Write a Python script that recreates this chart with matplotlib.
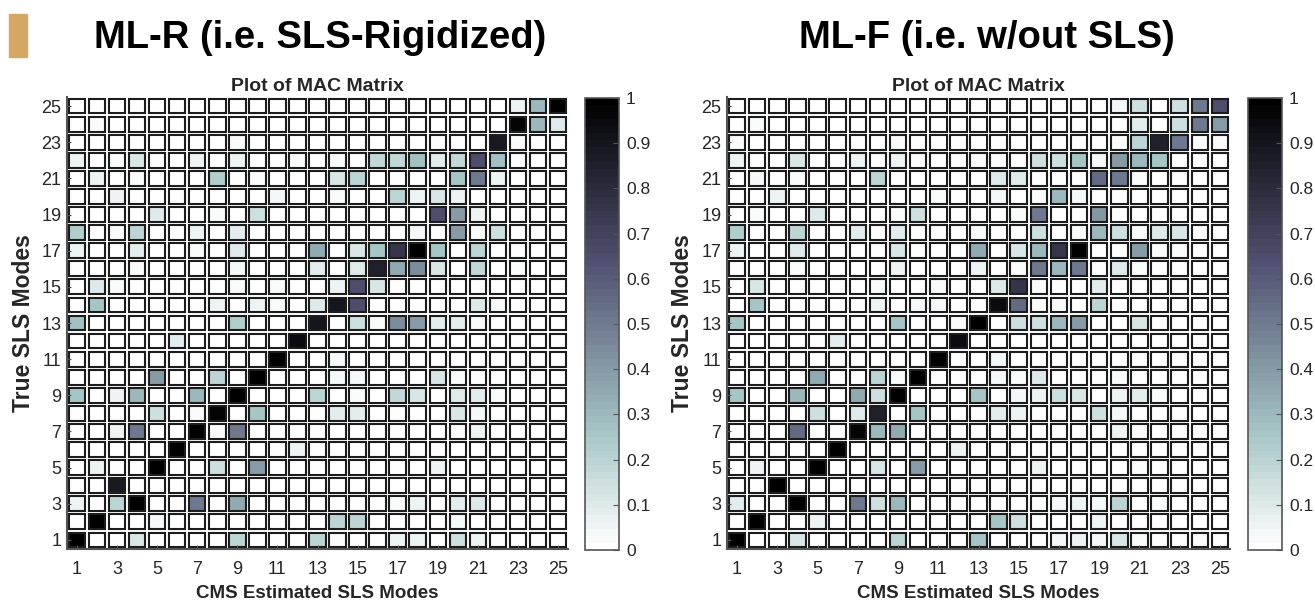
import matplotlib

matplotlib.use("Agg")
import matplotlib.pyplot as plt
import numpy as np
from matplotlib.cm import ScalarMappable
from matplotlib.colors import Normalize
from matplotlib.patches import Rectangle

# MAC values, rows listed from true mode 25 (top) down to true mode 1,
# columns are CMS estimated modes 1..25
mac_rigidized = [
    [0, 0, 0, 0, 0, 0, 0, 0, 0, 0, 0, 0, 0, 0, 0, 0, 0, 0, 0, 0, 0, 0, .05, .30, 1.0],
    [0, .02, 0, 0, 0, 0, 0, 0, 0, 0, 0, 0, 0, 0, 0, 0, 0, 0, 0, 0, 0, 0, .98, .30, .10],
    [0, 0, 0, 0, 0, 0, 0, 0, .03, 0, 0, 0, 0, 0, 0, 0, 0, 0, 0, 0, 0, .88, .03, 0, 0],
    [.05, 0, .03, .12, 0, 0, .06, 0, .06, 0, 0, .02, 0, .03, 0, .18, .18, .28, .08, .18, .65, .28, 0, 0, 0],
    [0, .05, 0, .03, 0, 0, 0, .22, 0, .02, 0, 0, 0, .12, .20, 0, 0, 0, 0, .25, .50, .05, 0, 0, 0],
    [0, 0, .05, 0, 0, 0, 0, 0, 0, 0, .04, 0, 0, .03, 0, 0, .20, .05, .12, .05, 0, 0, 0, 0, 0],
    [0, 0, 0, 0, .10, 0, 0, .03, 0, .15, 0, 0, 0, 0, 0, 0, 0, 0, .65, .40, .05, 0, 0, 0, 0],
    [.22, 0, .03, .20, 0, 0, .06, 0, .08, 0, 0, 0, 0, 0, 0, 0, 0, .04, 0, .40, .03, .15, 0, 0, 0],
    [.05, 0, 0, .08, 0, 0, .03, 0, .10, 0, 0, 0, .35, 0, .12, .25, .75, 1.0, .25, 0, .20, 0, 0, 0, 0],
    [0, 0, 0, .03, 0, 0, 0, 0, .04, 0, 0, 0, .08, 0, .10, .85, .35, .45, .12, 0, .18, 0, .03, 0, 0],
    [0, .10, .03, 0, 0, 0, 0, 0, .03, 0, .03, 0, 0, .06, .65, .12, 0, 0, 0, 0, 0, 0, 0, 0, 0],
    [0, .25, 0, 0, 0, 0, 0, .06, 0, .05, .03, 0, .10, .90, .65, 0, 0, 0, 0, 0, .10, .04, 0, 0, 0],
    [.28, 0, 0, 0, 0, 0, 0, 0, .22, 0, 0, 0, .90, 0, .15, .03, .45, .40, .08, .08, .03, 0, 0, 0, 0],
    [0, 0, 0, 0, 0, .08, 0, 0, 0, 0, 0, .95, 0, 0, 0, 0, 0, 0, 0, 0, 0, 0, 0, 0, 0],
    [0, 0, 0, 0, 0, 0, 0, 0, 0, 0, 1.0, 0, 0, .04, 0, 0, 0, 0, 0, 0, 0, 0, 0, 0, 0],
    [0, 0, 0, 0, .40, 0, 0, .20, 0, 1.0, 0, 0, 0, .04, .04, 0, 0, 0, .12, .03, 0, 0, 0, 0, 0],
    [.25, 0, .05, .30, 0, 0, .30, 0, 1.0, 0, 0, 0, .20, 0, .03, 0, .18, .12, 0, .10, .08, .02, 0, 0, 0],
    [0, 0, 0, 0, .15, 0, .02, .98, 0, .25, 0, 0, 0, .08, .08, 0, 0, 0, 0, .12, .04, 0, 0, 0, 0],
    [0, 0, .06, .50, 0, 0, 1.0, .02, .50, 0, 0, 0, 0, 0, 0, 0, 0, 0, 0, .03, .05, 0, 0, 0, 0],
    [0, 0, 0, 0, 0, 1.0, 0, 0, 0, 0, 0, .06, 0, 0, 0, 0, 0, 0, 0, 0, 0, 0, 0, 0, 0],
    [0, .05, 0, 0, 1.0, 0, 0, .15, 0, .40, 0, 0, 0, 0, 0, 0, 0, 0, .06, 0, 0, 0, 0, 0, 0],
    [0, 0, .88, 0, 0, 0, 0, 0, 0, 0, 0, 0, 0, 0, 0, 0, 0, 0, 0, 0, 0, 0, 0, 0, 0],
    [.06, 0, .20, 1.0, 0, 0, .50, 0, .35, 0, 0, 0, 0, 0, 0, 0, .03, .06, 0, .08, .10, 0, 0, 0, 0],
    [0, 1.0, 0, 0, .04, 0, 0, 0, 0, 0, 0, 0, 0, .20, .20, 0, 0, 0, 0, .04, 0, 0, 0, 0, 0],
    [1.0, 0, 0, .12, 0, 0, 0, 0, .20, 0, 0, 0, .20, .02, 0, 0, .06, .05, 0, .15, .06, 0, 0, 0, 0],
]

mac_free = [
    [0, 0, 0, 0, 0, 0, 0, 0, 0, 0, 0, 0, 0, 0, 0, 0, 0, 0, 0, .04, .15, 0, .15, .50, .65],
    [0, .02, 0, 0, 0, 0, 0, 0, 0, 0, 0, 0, 0, 0, 0, 0, 0, 0, 0, 0, .08, 0, .15, .50, .40],
    [.02, 0, 0, 0, 0, 0, 0, 0, .02, 0, 0, 0, 0, 0, 0, 0, 0, 0, 0, .02, .20, .85, .50, .03, .03],
    [.06, 0, 0, .12, 0, 0, .06, 0, .05, 0, 0, 0, .02, 0, 0, .15, .15, .25, .04, .40, .30, .25, 0, 0, 0],
    [0, .04, 0, .02, 0, 0, 0, .20, 0, 0, 0, 0, 0, .10, .10, 0, 0, 0, .55, .50, .02, 0, 0, 0, 0],
    [0, 0, .05, 0, 0, 0, 0, 0, 0, 0, .03, 0, 0, .04, 0, .03, .30, .04, 0, 0, 0, 0, 0, 0, 0],
    [0, .02, 0, 0, .10, 0, 0, 0, .02, .15, 0, 0, 0, 0, .03, .50, 0, 0, .42, 0, 0, 0, 0, 0, 0],
    [.22, 0, 0, .20, 0, 0, .08, 0, .08, 0, 0, 0, .03, 0, 0, .15, 0, .03, .30, .15, .03, .10, .12, 0, 0],
    [.05, 0, 0, .10, 0, 0, 0, 0, .12, 0, 0, 0, .35, 0, .12, .30, .75, 1.0, 0, 0, .40, .03, .03, 0, 0],
    [0, 0, 0, .02, 0, 0, 0, 0, .05, 0, 0, 0, .06, 0, .03, .50, .30, .50, 0, .10, .03, 0, 0, 0, 0],
    [0, .12, 0, 0, 0, 0, 0, .02, 0, 0, .02, 0, 0, .10, .75, .03, 0, 0, .08, 0, 0, 0, 0, 0, 0],
    [0, .25, 0, 0, 0, 0, 0, .05, 0, .04, .04, 0, 0, .95, .55, .03, .03, 0, .20, 0, 0, 0, 0, 0, 0],
    [.25, 0, 0, 0, 0, 0, 0, 0, .25, 0, 0, .03, 1.0, 0, .15, .15, .30, .40, 0, 0, .12, 0, 0, 0, 0],
    [0, 0, 0, 0, 0, .08, 0, 0, 0, 0, 0, .95, 0, 0, 0, 0, 0, 0, 0, 0, 0, 0, 0, 0, 0],
    [0, 0, 0, 0, 0, 0, 0, 0, 0, 0, 1.0, 0, 0, .04, 0, 0, 0, 0, 0, 0, 0, 0, 0, 0, 0],
    [0, 0, 0, 0, .35, 0, 0, .20, .03, 1.0, 0, 0, 0, .04, .03, .10, 0, 0, 0, .02, 0, 0, 0, 0, 0],
    [.25, 0, 0, .30, 0, 0, .35, .15, 1.0, 0, 0, 0, .25, 0, .04, .05, .15, .12, 0, .06, .08, .02, 0, 0, 0],
    [0, 0, 0, 0, .15, 0, .10, .85, 0, .25, 0, 0, 0, .08, .05, 0, 0, 0, .15, .04, 0, 0, 0, 0, 0],
    [0, 0, 0, .55, 0, 0, .98, .30, .35, 0, 0, 0, 0, 0, 0, 0, 0, 0, 0, .06, .02, 0, 0, 0, 0],
    [0, 0, 0, 0, 0, 1.0, 0, 0, 0, 0, 0, .05, 0, 0, 0, 0, 0, 0, 0, 0, 0, 0, 0, 0, 0],
    [0, .05, 0, 0, 1.0, 0, 0, .12, 0, .40, 0, 0, 0, 0, 0, .05, 0, 0, 0, 0, .02, 0, 0, 0, 0],
    [0, 0, 1.0, 0, 0, 0, 0, 0, 0, 0, 0, 0, 0, 0, 0, 0, 0, 0, 0, 0, 0, 0, 0, 0, 0],
    [.08, 0, 0, 1.0, 0, 0, .50, .15, .30, 0, 0, 0, 0, 0, 0, 0, .04, .06, .04, .20, 0, .02, 0, 0, 0],
    [0, 1.0, 0, 0, .05, 0, 0, 0, 0, 0, 0, 0, 0, .25, .15, 0, 0, 0, .06, 0, 0, 0, 0, 0, 0],
    [1.0, 0, 0, .12, 0, 0, 0, 0, .20, 0, 0, 0, .25, 0, 0, 0, .04, .06, .04, .12, .02, 0, 0, 0, 0],
]

headers = ["ML-R (i.e. SLS-Rigidized)", "ML-F (i.e. w/out SLS)"]
panel_title = "Plot of MAC Matrix"
x_label = "CMS Estimated SLS Modes"
y_label = "True SLS Modes"
mode_ticks = list(range(1, 26, 2))
cbar_ticks = [0, 0.1, 0.2, 0.3, 0.4, 0.5, 0.6, 0.7, 0.8, 0.9, 1.0]

W, H = 1315, 604
plt.rcParams["font.family"] = ["Liberation Sans", "DejaVu Sans"]
fig = plt.figure(figsize=(W / 100, H / 100), dpi=100)
fig.patch.set_facecolor("white")

cmap = plt.get_cmap("bone_r", 64)
norm = Normalize(0, 1)
text_color = "#262626"
axis_color = "#555555"


def px_box(x0, y0, x1, y1):
    return [x0 / W, 1 - y1 / H, (x1 - x0) / W, (y1 - y0) / H]


# gold accent bar
fig.patches.append(Rectangle((9 / W, 1 - 57 / H), 18 / W, 43 / H,
                             transform=fig.transFigure, color="#D4A862"))

panels = [
    (mac_rigidized, headers[0], 320, px_box(67, 97, 568, 549), px_box(585, 98, 619, 550), -0.086),
    (mac_free, headers[1], 987, px_box(727, 97, 1230, 549), px_box(1248, 98, 1282, 550), -0.088),
]

for matrix, header, header_x, ax_box, cax_box, ylab_x in panels:
    fig.text(header_x / W, 1 - 38 / H, header, ha="center", va="center",
             fontsize=27.5, fontweight="bold", color="black")

    ax = fig.add_axes(ax_box)
    values = np.array(matrix)[::-1]  # row 0 -> true mode 1
    n_rows, n_cols = values.shape
    for i in range(n_rows):
        for j in range(n_cols):
            ax.add_patch(Rectangle((j + 1 - 0.41, i + 1 - 0.41), 0.82, 0.82,
                                   facecolor=cmap(norm(values[i, j])),
                                   edgecolor="#1c1c1c", linewidth=1.5))
    ax.set_xlim(0.5, n_cols + 0.5)
    ax.set_ylim(0.5, n_rows + 0.5)
    ax.set_xticks(mode_ticks)
    ax.set_yticks(mode_ticks)
    ax.tick_params(direction="in", length=3, width=0.8, color=axis_color,
                   labelsize=13, labelcolor=text_color)
    ax.tick_params(axis="x", pad=9)
    ax.tick_params(axis="y", pad=4)
    for side in ("top", "right"):
        ax.spines[side].set_visible(False)
    for side in ("left", "bottom"):
        ax.spines[side].set_color(axis_color)
        ax.spines[side].set_linewidth(1.5)

    ax.set_title(panel_title, fontsize=14, fontweight="bold", color=text_color, pad=4)
    ax.set_xlabel(x_label, fontsize=13.5, fontweight="bold", color=text_color, va="center")
    ax.xaxis.set_label_coords(0.5, (549 - 593) / 452)
    ax.set_ylabel(y_label, fontsize=16.5, fontweight="bold", color=text_color, va="center")
    ax.yaxis.set_label_coords(ylab_x, 0.5)

    cax = fig.add_axes(cax_box)
    cbar = fig.colorbar(ScalarMappable(norm=norm, cmap=cmap), cax=cax, ticks=cbar_ticks)
    cbar.ax.set_yticklabels([f"{t:g}" for t in cbar_ticks])
    cbar.outline.set_edgecolor(axis_color)
    cbar.outline.set_linewidth(1.2)
    cax.tick_params(direction="in", length=4, width=0.8, color=axis_color,
                    labelsize=12.5, labelcolor=text_color, pad=5)

fig.savefig("out.png", dpi=100)
plt.close(fig)
